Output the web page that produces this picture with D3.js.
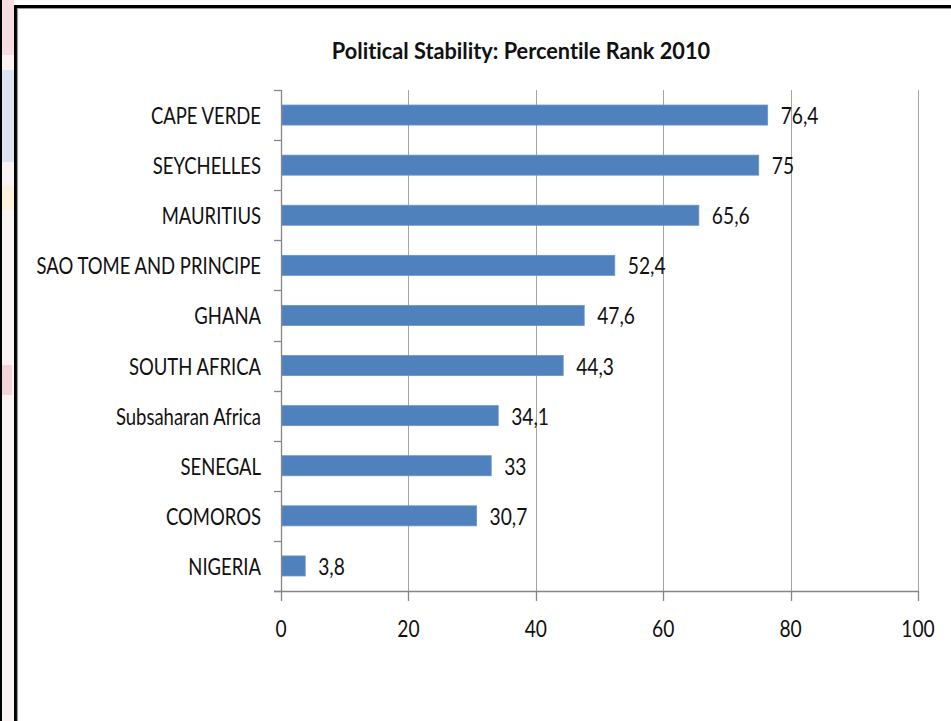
<!DOCTYPE html>
<html>
<head>
<meta charset="utf-8">
<script src="https://cdn.jsdelivr.net/npm/d3@7"></script>
<style>
  html, body { margin: 0; padding: 0; background: #fff; }
  svg { display: block; }
  text { font-family: Lato, "Open Sans", sans-serif; fill: #111; font-variant-ligatures: none; }
</style>
</head>
<body>
<svg id="chart" width="951" height="721"></svg>
<script>
  'use strict';

  const countries = ['CAPE VERDE', 'SEYCHELLES', 'MAURITIUS', 'SAO TOME AND PRINCIPE', 'GHANA',
    'SOUTH AFRICA', 'Subsaharan Africa', 'SENEGAL', 'COMOROS', 'NIGERIA'];
  const ranks = [76.4, 75, 65.6, 52.4, 47.6, 44.3, 34.1, 33, 30.7, 3.8];
  const xTicks = [0, 20, 40, 60, 80, 100];
  const title = 'Political Stability: Percentile Rank 2010';

  const svg = d3.select('#chart');
  const SX = 0.77; // text looks horizontally squeezed in the source

  // slide backdrop peeking out on the left
  const strip = svg.append('g');
  strip.append('rect').attr('x', 0).attr('y', 0).attr('width', 14).attr('height', 721).attr('fill', '#fbf3f3');
  strip.append('rect').attr('x', 2).attr('y', 0).attr('width', 12).attr('height', 55).attr('fill', '#f6dde1');
  strip.append('rect').attr('x', 2).attr('y', 70).attr('width', 12).attr('height', 92).attr('fill', '#dde3ee');
  strip.append('rect').attr('x', 2).attr('y', 185).attr('width', 12).attr('height', 25).attr('fill', '#fbf1dc');
  strip.append('rect').attr('x', 2).attr('y', 365).attr('width', 10).attr('height', 30).attr('fill', '#f4d3d8');
  strip.append('rect').attr('x', 0).attr('y', 0).attr('width', 2).attr('height', 721).attr('fill', '#000');

  // frame
  svg.append('rect').attr('x', 14).attr('y', 5).attr('width', 960).attr('height', 740).attr('fill', '#fff');
  svg.append('path').attr('d', 'M15.5,760 V6.5 H960').attr('fill', 'none').attr('stroke', '#000').attr('stroke-width', 3);
  svg.append('path').attr('d', 'M17.5,760 V8.5 H960').attr('fill', 'none').attr('stroke', '#999').attr('stroke-width', 1.2);

  const margin = { left: 281, right: 33, top: 90, bottom: 130 };
  const width = 951 - margin.left - margin.right;
  const height = 721 - margin.top - margin.bottom;
  const g = svg.append('g').attr('transform', `translate(${margin.left},${margin.top})`);

  const x = d3.scaleLinear().domain([0, 100]).range([0, width]);
  const y = d3.scaleBand().domain(countries).range([0, height]).paddingInner(0.6).paddingOuter(0.3);
  const step = y.step();

  // vertical gridlines
  g.append('g').selectAll('line').data(xTicks.slice(1)).join('line')
    .attr('x1', d => Math.round(x(d)) + 0.5).attr('x2', d => Math.round(x(d)) + 0.5)
    .attr('y1', 0).attr('y2', height)
    .attr('stroke', '#a6a6a6').attr('stroke-width', 1);

  // bars
  g.append('g').selectAll('rect').data(ranks).join('rect')
    .attr('x', x(0) + 1)
    .attr('y', (d, i) => y(countries[i]))
    .attr('width', d => x(d) - x(0) - 1)
    .attr('height', y.bandwidth())
    .attr('fill', '#4f81bd')
    .attr('stroke', '#6a95c8').attr('stroke-width', 0.8);

  // value labels
  g.append('g').selectAll('text').data(ranks).join('text')
    .attr('transform', (d, i) => `translate(${x(d) + 13},${y(countries[i]) + y.bandwidth() / 2 + 9}) scale(0.8,1)`)
    .attr('font-size', 24)
    .text(d => String(d).replace('.', ','));

  // y axis line + category ticks
  const ya = g.append('g');
  ya.append('line').attr('x1', 0.5).attr('x2', 0.5).attr('y1', 0).attr('y2', height)
    .attr('stroke', '#868686').attr('stroke-width', 1.3);
  ya.selectAll('line.tk').data(d3.range(countries.length + 1)).join('line').attr('class', 'tk')
    .attr('x1', -7).attr('x2', 0)
    .attr('y1', d => Math.round(d * step) + 0.5).attr('y2', d => Math.round(d * step) + 0.5)
    .attr('stroke', '#868686').attr('stroke-width', 1.3);
  ya.selectAll('text').data(countries).join('text')
    .attr('transform', d => `translate(-20,${y(d) + y.bandwidth() / 2 + 9}) scale(${SX},1)`)
    .attr('text-anchor', 'end')
    .attr('font-size', 24)
    .text(d => d);

  // x axis
  const xa = g.append('g').attr('transform', `translate(0,${height})`);
  xa.append('line').attr('x1', -7).attr('x2', width).attr('y1', 0.5).attr('y2', 0.5)
    .attr('stroke', '#868686').attr('stroke-width', 1.3);
  xa.selectAll('line.tk').data(xTicks).join('line').attr('class', 'tk')
    .attr('x1', d => Math.round(x(d)) + 0.5).attr('x2', d => Math.round(x(d)) + 0.5)
    .attr('y1', 0).attr('y2', 10)
    .attr('stroke', '#868686').attr('stroke-width', 1.3);
  xa.selectAll('text').data(xTicks).join('text')
    .attr('transform', d => `translate(${x(d)},46) scale(0.8,1)`)
    .attr('text-anchor', 'middle')
    .attr('font-size', 24)
    .text(d => d);

  // title
  svg.append('text')
    .attr('transform', `translate(521,59) scale(0.945,1)`)
    .attr('text-anchor', 'middle')
    .attr('font-size', 23)
    .attr('font-weight', 'bold')
    .text(title);
</script>
</body>
</html>
